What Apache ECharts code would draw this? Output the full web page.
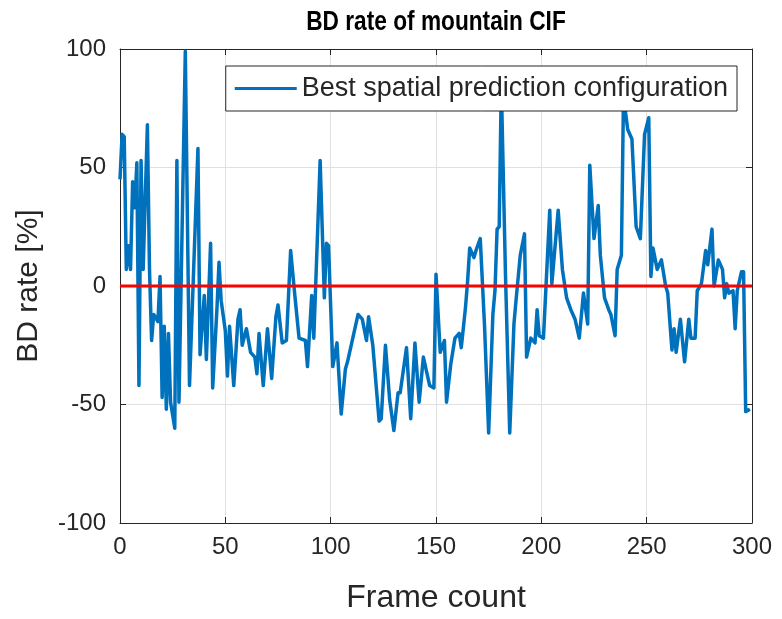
<!DOCTYPE html>
<html>
<head>
<meta charset="utf-8">
<script src="https://cdn.jsdelivr.net/npm/echarts@6/dist/echarts.min.js"></script>
<style>
  html, body { margin: 0; padding: 0; background: #ffffff; }
  #chart { width: 782px; height: 619px; }
</style>
</head>
<body>
<div id="chart"></div>
<script>
// Frame indices and the BD rate (%) measured at each of them
const frames = [0,1,2,3,4,5,6,7,8,9,10,11,13,14,15,16,18,19,20,21,22,23,24,26,27,28,31,33,37,38,40,41,43,44,46,47,48,50,51,52,54,56,57,58,60,62,64,65,66,68,70,72,74,75,77,79,81,83,85,88,89,91,92,95,97,98,99,101,103,105,107,108,111,113,115,117,118,120,123,124,126,128,130,132,133,136,138,140,142,144,146,147,149,150,152,154,155,157,159,161,162,164,165,166,168,169,171,173,175,177,178,179,180,181,183,185,187,188,190,192,193,195,197,198,199,201,204,205,208,210,212,214,216,218,220,222,223,225,227,228,230,232,233,235,236,238,239,241,243,245,247,249,251,252,253,255,257,259,260,262,263,264,266,268,270,271,273,274,276,278,279,281,282,284,286,287,288,289,291,292,293,295,296,297,299];
const bdRate = [45,64,63,7,17,7,44,33,52,-42,53,7,68,7,-23,-12,-15,4,-47,-17,-52,-20,-49,-60,53,-49,99,-42,58,-29,-4,-31,18,-43,-10,10,-6,-19,-38,-17,-42,-14,-10,-25,-18,-28,-30,-37,-20,-42,-18,-39,-13,-8,-24,-23,15,-4,-22,-23,-34,-4,-22,53,-5,18,17,-34,-24,-54,-35,-32,-20,-12,-14,-23,-13,-25,-57,-56,-25,-48,-61,-45,-45,-26,-56,-24,-49,-30,-38,-42,-43,5,-28,-23,-49,-33,-22,-20,-26,-9,2,16,12,15,20,-16,-62,-12,-2,24,25,85,4,-62,-16,-6,13,22,-30,-22,-24,-10,-21,-22,32,1,32,7,-5,-10,-14,-22,-3,-16,51,20,34,13,-5,-10,-12,-21,7,13,80,66,62,25,20,64,71,4,16,7,11,0,-3,-27,-18,-28,-14,-32,-14,-22,-22,-2,1,15,9,24,0,11,7,-5,1,-3,-2,-18,-2,6,6,-53,-52];

// Reference level (zero BD rate) across the whole frame range
const zeroLineFrames = [0, 300];
const zeroLineValues = [0, 0];

// Axis ticks
const xTickValues = [0, 50, 100, 150, 200, 250, 300];
const yTickValues = [-100, -50, 0, 50, 100];

const seriesName = 'Best spatial prediction configuration';
const chartTitle = 'BD rate of mountain CIF';
const xAxisName = 'Frame count';
const yAxisName = 'BD rate [%]';

const FONT = '"Liberation Sans", Arial, Helvetica, sans-serif';
const AXIS_COLOR = '#262626';
const GRID_COLOR = '#e0e0e0';

const xMin = xTickValues[0], xMax = xTickValues[xTickValues.length - 1];
const xStep = xTickValues[1] - xTickValues[0];
const yMin = yTickValues[0], yMax = yTickValues[yTickValues.length - 1];
const yStep = yTickValues[1] - yTickValues[0];

const chart = echarts.init(document.getElementById('chart'), null, { renderer: 'canvas' });

const boxAxis = {
  axisLine: { show: true, onZero: false, lineStyle: { color: AXIS_COLOR, width: 1 } },
  axisTick: { show: true, inside: true, length: 6, lineStyle: { color: AXIS_COLOR, width: 1 } },
};

chart.setOption({
  backgroundColor: '#ffffff',
  animation: false,
  // Title drawn as a slightly condensed bold text centred over the plot box
  graphic: [
    {
      type: 'text',
      x: 436,
      y: 23,
      scaleX: 0.84,
      style: {
        text: chartTitle,
        font: 'bold 27px ' + FONT,
        fill: '#000000',
        textAlign: 'center',
        textVerticalAlign: 'middle'
      },
      z: 10
    }
  ],
  legend: {
    data: [seriesName],
    right: 45,
    top: 66,
    orient: 'horizontal',
    padding: [9, 9, 9, 9],
    itemWidth: 62,
    itemHeight: 3,
    icon: 'rect',
    backgroundColor: '#ffffff',
    borderColor: AXIS_COLOR,
    borderWidth: 1,
    borderRadius: 0,
    textStyle: { fontFamily: FONT, fontSize: 27, color: AXIS_COLOR }
  },
  grid: { left: 120, top: 49, right: 30, bottom: 91, containLabel: false },
  xAxis: [
    Object.assign({
      type: 'value', min: xMin, max: xMax, interval: xStep, position: 'bottom',
      name: xAxisName, nameLocation: 'middle', nameGap: 59,
      nameTextStyle: { fontFamily: FONT, fontSize: 32, color: AXIS_COLOR },
      axisLabel: { fontFamily: FONT, fontSize: 24, color: AXIS_COLOR, margin: 12 },
      splitLine: { show: true, lineStyle: { color: GRID_COLOR, width: 1 } }
    }, boxAxis),
    Object.assign({
      type: 'value', min: xMin, max: xMax, interval: xStep, position: 'top',
      axisLabel: { show: false }, splitLine: { show: false }
    }, boxAxis)
  ],
  yAxis: [
    Object.assign({
      type: 'value', min: yMin, max: yMax, interval: yStep, position: 'left',
      name: yAxisName, nameLocation: 'middle', nameGap: 76, nameRotate: 90,
      nameTextStyle: { fontFamily: FONT, fontSize: 30, color: AXIS_COLOR },
      axisLabel: { fontFamily: FONT, fontSize: 24, color: AXIS_COLOR, margin: 14 },
      splitLine: { show: true, lineStyle: { color: GRID_COLOR, width: 1 } }
    }, boxAxis),
    Object.assign({
      type: 'value', min: yMin, max: yMax, interval: yStep, position: 'right',
      axisLabel: { show: false }, splitLine: { show: false }
    }, boxAxis)
  ],
  series: [
    {
      name: seriesName,
      type: 'line',
      data: frames.map((f, i) => [f, bdRate[i]]),
      showSymbol: false,
      symbol: 'none',
      clip: true,
      lineStyle: { color: '#0072BD', width: 3.5, join: 'round' },
      itemStyle: { color: '#0072BD' },
      z: 2
    },
    {
      name: 'zero',
      type: 'line',
      data: zeroLineFrames.map((f, i) => [f, zeroLineValues[i]]),
      showSymbol: false,
      symbol: 'none',
      lineStyle: { color: '#ff0000', width: 3 },
      itemStyle: { color: '#ff0000' },
      z: 3
    }
  ]
});
</script>
</body>
</html>
